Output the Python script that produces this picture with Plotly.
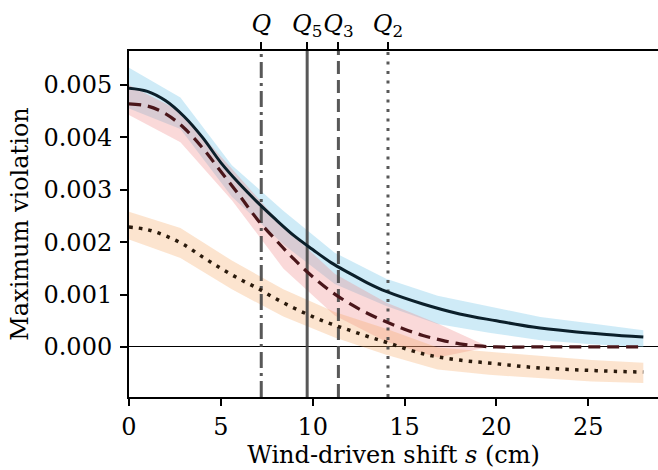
import plotly.graph_objects as go

# ---- smooth curves ----
x_solid = [0, 1, 2, 3, 4, 5, 6, 7, 8, 9, 10, 11, 12, 13, 14, 16, 18, 20, 22, 24, 26, 28]
y_solid = [0.00494, 0.00488, 0.00470, 0.00440, 0.00400, 0.00352, 0.00312, 0.00276, 0.00243,
           0.00212, 0.00186, 0.00161, 0.00141, 0.00122, 0.00106, 0.00082, 0.00063, 0.00050,
           0.00038, 0.00030, 0.00024, 0.00019]

x_dash = [0, 1, 2, 3, 4, 5, 6, 7, 8, 9, 10, 11, 12, 13, 14, 15, 16, 17, 18, 19, 20, 22, 24, 26, 28]
y_dash = [0.00464, 0.00460, 0.00445, 0.00418, 0.00380, 0.00335, 0.00290, 0.00243, 0.00204,
          0.00167, 0.00134, 0.00106, 0.00083, 0.00064, 0.00048, 0.00034, 0.00022, 0.00013,
          0.00006, 0.00002, 0.0, 0.0, 0.0, 0.0, 0.0]

x_dot = [0, 1, 2, 3, 4, 5, 6, 7, 8, 9, 10, 11, 12, 13, 14, 16, 18, 20, 22, 24, 26, 28]
y_dot = [0.00229, 0.00224, 0.00212, 0.00195, 0.00172, 0.00150, 0.00130, 0.00112, 0.00092,
         0.00074, 0.00058, 0.00044, 0.00032, 0.00020, 0.00009, -0.00013, -0.00025, -0.00032,
         -0.00039, -0.00043, -0.00046, -0.00048]

# ---- uncertainty bands (coarse grid) ----
x_band = [0, 2.8, 5.6, 8.4, 11.2, 14.0, 16.8, 19.6, 22.4, 25.2, 28.0]
blue_hi = [0.00533, 0.00476, 0.00347, 0.00260, 0.00180, 0.00130, 0.00098, 0.00077, 0.00057, 0.00045, 0.00032]
blue_lo = [0.00455, 0.00416, 0.00287, 0.00196, 0.00120, 0.00078, 0.00044, 0.00027, 0.00013, 0.00005, 0.00000]
pink_hi = [0.00500, 0.00450, 0.00340, 0.00230, 0.00140, 0.00085, 0.00045, 0.0, 0.0, 0.0, 0.0]
pink_lo = [0.00443, 0.00391, 0.00280, 0.00150, 0.00060, 0.00010, -0.00020, 0.0, 0.0, 0.0, 0.0]
orng_hi = [0.00258, 0.00227, 0.00165, 0.00110, 0.00067, 0.00035, -0.00001, -0.00009, -0.00018, -0.00025, -0.00030]
orng_lo = [0.00205, 0.00170, 0.00110, 0.00058, 0.00018, -0.00015, -0.00043, -0.00053, -0.00060, -0.00066, -0.00069]

# ---- reference quantities ----
q_names = ["<i>Q</i>", "<i>Q</i><sub>5</sub>", "<i>Q</i><sub>3</sub>", "<i>Q</i><sub>2</sub>"]
q_vals = [7.2, 9.7, 11.4, 14.1]
q_dash = ["16px,5px,3px,5px", "solid", "13px,6px", "3px,6.5px"]

X_RANGE = [0, 28.8]
Y_RANGE = [-0.000955, 0.00565]

FONT = "DejaVu Serif"
FS = 24
fig = go.Figure()


def band(x, hi, lo, color):
    fig.add_trace(go.Scatter(x=list(x) + list(x)[::-1], y=list(hi) + list(lo)[::-1],
                             fill="toself", fillcolor=color, line=dict(width=0),
                             mode="lines", hoverinfo="skip", showlegend=False))


band(x_band, blue_hi, blue_lo, "rgba(135,206,235,0.4)")
band(x_band, pink_hi, pink_lo, "rgba(240,128,128,0.3)")
band(x_band, orng_hi, orng_lo, "rgba(244,164,96,0.3)")

for qv, qd in zip(q_vals, q_dash):
    fig.add_trace(go.Scatter(x=[qv, qv], y=Y_RANGE, mode="lines",
                             line=dict(color="rgba(70,70,70,0.9)", width=3, dash=qd),
                             hoverinfo="skip", showlegend=False))

fig.add_trace(go.Scatter(x=x_solid, y=y_solid, mode="lines", line_shape="spline",
                         line=dict(color="#0b1f2a", width=3), showlegend=False))
fig.add_trace(go.Scatter(x=x_dash, y=y_dash, mode="lines", line_shape="spline",
                         line=dict(color="#4a161a", width=3.2, dash="12px,7px"), showlegend=False))
fig.add_trace(go.Scatter(x=x_dot, y=y_dot, mode="lines", line_shape="spline",
                         line=dict(color="#2a1a0c", width=3.5, dash="3.5px,6.2px"), showlegend=False))

# invisible trace for top axis
fig.add_trace(go.Scatter(x=q_vals, y=[None] * len(q_vals), xaxis="x2", showlegend=False,
                         hoverinfo="skip"))

axis_common = dict(showgrid=False, showline=True, linecolor="black", linewidth=2,
                   ticks="outside", ticklen=7, tickwidth=1.5, tickcolor="black",
                   automargin=False, tickfont=dict(size=FS), tickangle=0)

fig.update_layout(
    width=658, height=470,
    margin=dict(l=129, r=0, t=51, b=73),
    paper_bgcolor="white", plot_bgcolor="white",
    font=dict(family=FONT, size=FS, color="black"),
    xaxis=dict(range=X_RANGE, dtick=5, tick0=0, zeroline=False,
               title=dict(text="Wind-driven shift <i>s</i> (cm)", standoff=4, font=dict(size=FS)),
               **axis_common),
    xaxis2=dict(range=X_RANGE, overlaying="x", side="top", tickmode="array",
                tickvals=q_vals, ticktext=q_names, zeroline=False, **axis_common),
    yaxis=dict(range=Y_RANGE, dtick=0.001, tick0=0, tickformat=".3f",
               zeroline=True, zerolinecolor="black", zerolinewidth=1, ticklabelstandoff=3,
               title=dict(text="Maximum violation", standoff=8, font=dict(size=FS)),
               **axis_common),
)

fig.write_html("out.html", config={"displayModeBar": False},
               post_script="document.body.style.margin='0';document.body.style.overflow='hidden';")
